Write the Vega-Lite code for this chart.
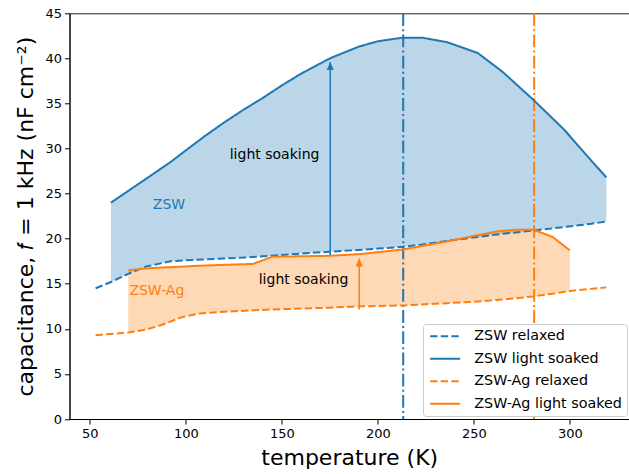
{
  "$schema": "https://vega.github.io/schema/vega-lite/v6.json",
  "width": 559.5,
  "height": 405.7,
  "autosize": "none",
  "padding": {"left": 69.5, "top": 13.3, "right": 0, "bottom": 55},
  "config": {
    "font": "DejaVu Sans",
    "view": {"stroke": "#222", "strokeWidth": 1},
    "axis": {
      "grid": false, "tickColor": "#000", "domainColor": "#000", "tickSize": 5,
      "labelColor": "#000", "labelFontSize": 13, "labelPadding": 3,
      "titleColor": "#000", "titleFontSize": 22, "titleFontWeight": "normal", "titlePadding": 7
    },
    "legend": {
      "orient": "none", "legendX": 353.5, "legendY": 310.7,
      "padding": 5, "rowPadding": 7.5, "labelFontSize": 14.3, "labelColor": "#000", "labelOffset": 22,
      "symbolType": "M-3,0L3,0", "symbolSize": 100, "symbolOffset": 10, "symbolStrokeWidth": 2,
      "fillColor": "white", "strokeColor": "#cccccc", "cornerRadius": 3
    }
  },
  "datasets": {
    "zsw": [
      {"T": 53, "relaxed": 14.5, "soaked": null},
      {"T": 61, "relaxed": 15.2, "soaked": 24.0},
      {"T": 70, "relaxed": 16.1, "soaked": 25.3},
      {"T": 79, "relaxed": 16.9, "soaked": 26.6},
      {"T": 92, "relaxed": 17.5, "soaked": 28.5},
      {"T": 100, "relaxed": 17.6, "soaked": 29.8},
      {"T": 110, "relaxed": 17.7, "soaked": 31.4},
      {"T": 120, "relaxed": 17.8, "soaked": 32.9},
      {"T": 130, "relaxed": 17.9, "soaked": 34.3},
      {"T": 140, "relaxed": 18.05, "soaked": 35.6},
      {"T": 150, "relaxed": 18.2, "soaked": 37.0},
      {"T": 160, "relaxed": 18.35, "soaked": 38.3},
      {"T": 175, "relaxed": 18.55, "soaked": 40.0},
      {"T": 190, "relaxed": 18.75, "soaked": 41.3},
      {"T": 200, "relaxed": 18.9, "soaked": 41.9},
      {"T": 213, "relaxed": 19.1, "soaked": 42.3},
      {"T": 223, "relaxed": 19.35, "soaked": 42.3},
      {"T": 236, "relaxed": 19.75, "soaked": 41.8},
      {"T": 252, "relaxed": 20.2, "soaked": 40.6},
      {"T": 265, "relaxed": 20.55, "soaked": 38.5},
      {"T": 281, "relaxed": 20.9, "soaked": 35.4},
      {"T": 297, "relaxed": 21.3, "soaked": 32.1},
      {"T": 311, "relaxed": 21.65, "soaked": 28.7},
      {"T": 319, "relaxed": 21.9, "soaked": 26.8}
    ],
    "zswag": [
      {"T": 53, "relaxed": 9.3, "soaked": null},
      {"T": 70, "relaxed": 9.6, "soaked": 16.5},
      {"T": 79, "relaxed": 9.9, "soaked": 16.7},
      {"T": 87, "relaxed": 10.4, "soaked": 16.8},
      {"T": 98, "relaxed": 11.3, "soaked": 16.9},
      {"T": 107, "relaxed": 11.7, "soaked": 17.0},
      {"T": 120, "relaxed": 11.9, "soaked": 17.1},
      {"T": 135, "relaxed": 12.05, "soaked": 17.2},
      {"T": 145, "relaxed": 12.15, "soaked": 18.0},
      {"T": 160, "relaxed": 12.25, "soaked": 18.05},
      {"T": 175, "relaxed": 12.35, "soaked": 18.1},
      {"T": 191, "relaxed": 12.5, "soaked": 18.3},
      {"T": 213, "relaxed": 12.6, "soaked": 18.8},
      {"T": 236, "relaxed": 12.85, "soaked": 19.7},
      {"T": 250, "relaxed": 13.0, "soaked": 20.3},
      {"T": 262, "relaxed": 13.2, "soaked": 20.8},
      {"T": 272, "relaxed": 13.4, "soaked": 21.0},
      {"T": 281, "relaxed": 13.6, "soaked": 21.0},
      {"T": 291, "relaxed": 13.9, "soaked": 20.2},
      {"T": 300, "relaxed": 14.2, "soaked": 18.7},
      {"T": 319, "relaxed": 14.6, "soaked": null}
    ]
  },
  "encoding": {
    "x": {
      "field": "T", "type": "quantitative", "title": "temperature (K)",
      "scale": {"domain": [39.4, 330.8], "nice": false, "zero": false},
      "axis": {"values": [50, 100, 150, 200, 250, 300]}
    },
    "y": {
      "type": "quantitative", "title": "capacitance, 𝑓 = 1 kHz (nF cm⁻²)",
      "scale": {"domain": [0, 45], "nice": false},
      "axis": {"values": [0, 5, 10, 15, 20, 25, 30, 35, 40, 45]}
    }
  },
  "layer": [
    {
      "data": {"name": "zsw"},
      "transform": [{"filter": "isValid(datum.soaked)"}],
      "mark": {"type": "area", "color": "#1f77b4", "opacity": 0.3},
      "encoding": {"y": {"field": "relaxed"}, "y2": {"field": "soaked"}}
    },
    {
      "data": {"name": "zswag"},
      "transform": [{"filter": "isValid(datum.soaked)"}],
      "mark": {"type": "area", "color": "#ff7f0e", "opacity": 0.3},
      "encoding": {"y": {"field": "relaxed"}, "y2": {"field": "soaked"}}
    },
    {
      "data": {"values": [{"T": 213.2}]},
      "mark": {"type": "rule", "color": "#1f77b4", "strokeWidth": 2, "strokeDash": [12.8, 3.2, 2, 3.2]},
      "encoding": {"x": {"field": "T", "type": "quantitative"}}
    },
    {
      "data": {"values": [{"T": 281.4}]},
      "mark": {"type": "rule", "color": "#ff7f0e", "strokeWidth": 2, "strokeDash": [12.8, 3.2, 2, 3.2]},
      "encoding": {"x": {"field": "T", "type": "quantitative"}}
    },
    {
      "data": {"name": "zsw"},
      "mark": {"type": "line", "strokeWidth": 2},
      "encoding": {
        "y": {"field": "relaxed"},
        "color": {
          "datum": "ZSW relaxed", "type": "nominal",
          "scale": {"domain": ["ZSW relaxed", "ZSW light soaked", "ZSW-Ag relaxed", "ZSW-Ag light soaked"], "range": ["#1f77b4", "#1f77b4", "#ff7f0e", "#ff7f0e"]},
          "legend": {"title": null}
        },
        "strokeDash": {
          "datum": "ZSW relaxed", "type": "nominal",
          "scale": {"domain": ["ZSW relaxed", "ZSW light soaked", "ZSW-Ag relaxed", "ZSW-Ag light soaked"], "range": [[7.4, 3.2], [1, 0], [7.4, 3.2], [1, 0]]},
          "legend": {"title": null}
        }
      }
    },
    {
      "data": {"name": "zsw"},
      "transform": [{"filter": "isValid(datum.soaked)"}],
      "mark": {"type": "line", "strokeWidth": 2},
      "encoding": {
        "y": {"field": "soaked"},
        "color": {"datum": "ZSW light soaked", "type": "nominal"},
        "strokeDash": {"datum": "ZSW light soaked", "type": "nominal"}
      }
    },
    {
      "data": {"name": "zswag"},
      "mark": {"type": "line", "strokeWidth": 2},
      "encoding": {
        "y": {"field": "relaxed"},
        "color": {"datum": "ZSW-Ag relaxed", "type": "nominal"},
        "strokeDash": {"datum": "ZSW-Ag relaxed", "type": "nominal"}
      }
    },
    {
      "data": {"name": "zswag"},
      "transform": [{"filter": "isValid(datum.soaked)"}],
      "mark": {"type": "line", "strokeWidth": 2},
      "encoding": {
        "y": {"field": "soaked"},
        "color": {"datum": "ZSW-Ag light soaked", "type": "nominal"},
        "strokeDash": {"datum": "ZSW-Ag light soaked", "type": "nominal"}
      }
    },
    {
      "data": {"values": [{"T": 175.2, "from": 18.6, "to": 39.6}]},
      "layer": [
        {"mark": {"type": "rule", "color": "#1f77b4", "strokeWidth": 1.5, "yOffset": 4}, "encoding": {"y": {"field": "from"}, "y2": {"field": "to"}}},
        {"mark": {"type": "point", "shape": "M0,0L0.9,2L-0.9,2Z", "size": 64, "filled": true, "opacity": 1, "color": "#1f77b4", "strokeWidth": 0}, "encoding": {"y": {"field": "to"}}}
      ]
    },
    {
      "data": {"values": [{"T": 190.3, "from": 12.6, "to": 17.8}]},
      "layer": [
        {"mark": {"type": "rule", "color": "#ff7f0e", "strokeWidth": 1.5, "yOffset": 4}, "encoding": {"y": {"field": "from"}, "y2": {"field": "to"}}},
        {"mark": {"type": "point", "shape": "M0,0L0.9,2L-0.9,2Z", "size": 64, "filled": true, "opacity": 1, "color": "#ff7f0e", "strokeWidth": 0}, "encoding": {"y": {"field": "to"}}}
      ]
    },
    {
      "data": {"values": [{"T": 146.2, "C": 29.3, "label": "light soaking"}, {"T": 161.3, "C": 15.4, "label": "light soaking"}]},
      "mark": {"type": "text", "fontSize": 14, "color": "#000"},
      "encoding": {"y": {"field": "C"}, "text": {"field": "label"}}
    },
    {
      "data": {"values": [{"T": 91.2, "C": 23.7, "label": "ZSW"}]},
      "mark": {"type": "text", "fontSize": 14, "color": "#1f77b4"},
      "encoding": {"y": {"field": "C"}, "text": {"field": "label"}}
    },
    {
      "data": {"values": [{"T": 84.9, "C": 14.2, "label": "ZSW-Ag"}]},
      "mark": {"type": "text", "fontSize": 14, "color": "#ff7f0e"},
      "encoding": {"y": {"field": "C"}, "text": {"field": "label"}}
    }
  ]
}
